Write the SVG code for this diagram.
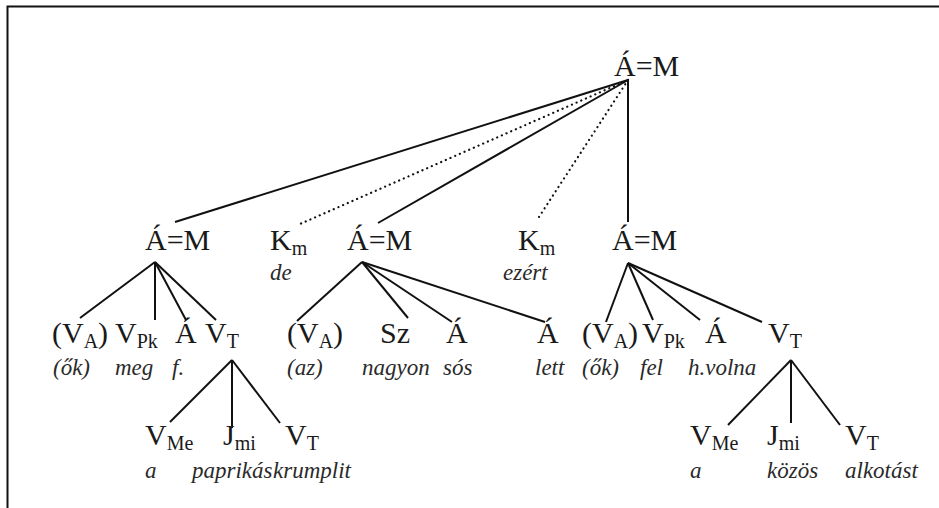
<svg xmlns="http://www.w3.org/2000/svg" width="939" height="508" viewBox="0 0 939 508">
<rect width="939" height="508" fill="#fff"/>
<path d="M7.5 508V6.5H939" stroke="#111" stroke-width="2" fill="none"/>
<g id="connectors" stroke="#111" stroke-width="2" fill="none">
<line x1="628" y1="80" x2="175" y2="222"/>
<line x1="628" y1="80" x2="300" y2="224" stroke-width="2.2" stroke-dasharray="0.1 5" stroke-linecap="round"/>
<line x1="628" y1="80" x2="378" y2="223"/>
<line x1="628" y1="80" x2="537" y2="220" stroke-width="2.2" stroke-dasharray="0.1 5" stroke-linecap="round"/>
<line x1="628" y1="80" x2="628" y2="222"/>
<line x1="155" y1="262" x2="80" y2="318"/>
<line x1="155" y1="262" x2="155" y2="320"/>
<line x1="155" y1="262" x2="186" y2="320"/>
<line x1="155" y1="262" x2="216" y2="320"/>
<line x1="362" y1="262" x2="297" y2="321"/>
<line x1="362" y1="262" x2="408" y2="318"/>
<line x1="362" y1="262" x2="452" y2="322"/>
<line x1="362" y1="262" x2="545" y2="322"/>
<line x1="628" y1="263" x2="606" y2="322"/>
<line x1="628" y1="263" x2="653" y2="320"/>
<line x1="628" y1="263" x2="700" y2="320"/>
<line x1="628" y1="263" x2="762" y2="322"/>
<line x1="232" y1="360" x2="170" y2="422"/>
<line x1="232" y1="360" x2="232" y2="428"/>
<line x1="232" y1="360" x2="280" y2="423"/>
<line x1="791" y1="360" x2="728" y2="425"/>
<line x1="791" y1="360" x2="791" y2="423"/>
<line x1="791" y1="360" x2="840" y2="425"/>
</g>
<g id="root"><text style="font-family:'Liberation Serif',Tinos,serif" font-family="Liberation Serif" font-size="30" fill="#1a1a1a" x="614" y="76">Á=M</text></g>
<g id="am1"><text style="font-family:'Liberation Serif',Tinos,serif" font-family="Liberation Serif" font-size="30" fill="#1a1a1a" x="145" y="250">Á=M</text></g>
<g id="km1"><text style="font-family:'Liberation Serif',Tinos,serif" font-family="Liberation Serif" font-size="30" fill="#1a1a1a" x="270" y="250">K<tspan font-size="20" dy="5">m</tspan></text><text style="font-family:'Liberation Serif',Tinos,serif" font-family="Liberation Serif" font-size="23" font-style="italic" fill="#2a2a2a" x="270" y="280">de</text></g>
<g id="am2"><text style="font-family:'Liberation Serif',Tinos,serif" font-family="Liberation Serif" font-size="30" fill="#1a1a1a" x="347" y="250">Á=M</text></g>
<g id="km2"><text style="font-family:'Liberation Serif',Tinos,serif" font-family="Liberation Serif" font-size="30" fill="#1a1a1a" x="518" y="250">K<tspan font-size="20" dy="5">m</tspan></text><text style="font-family:'Liberation Serif',Tinos,serif" font-family="Liberation Serif" font-size="23" font-style="italic" fill="#2a2a2a" x="503" y="280">ezért</text></g>
<g id="am3"><text style="font-family:'Liberation Serif',Tinos,serif" font-family="Liberation Serif" font-size="30" fill="#1a1a1a" x="612" y="250">Á=M</text></g>

<g id="va1"><text style="font-family:'Liberation Serif',Tinos,serif" font-family="Liberation Serif" font-size="30" fill="#1a1a1a" x="52" y="343">(V<tspan font-size="20" dy="5">A</tspan><tspan dy="-5">)</tspan></text><text style="font-family:'Liberation Serif',Tinos,serif" font-family="Liberation Serif" font-size="23" font-style="italic" fill="#2a2a2a" x="53" y="375">(ők)</text></g>
<g id="vpk1"><text style="font-family:'Liberation Serif',Tinos,serif" font-family="Liberation Serif" font-size="30" fill="#1a1a1a" x="115" y="343">V<tspan font-size="20" dy="5">Pk</tspan></text><text style="font-family:'Liberation Serif',Tinos,serif" font-family="Liberation Serif" font-size="23" font-style="italic" fill="#2a2a2a" x="115" y="375">meg</text></g>
<g id="a1"><text style="font-family:'Liberation Serif',Tinos,serif" font-family="Liberation Serif" font-size="30" fill="#1a1a1a" x="175" y="343">Á</text><text style="font-family:'Liberation Serif',Tinos,serif" font-family="Liberation Serif" font-size="23" font-style="italic" fill="#2a2a2a" x="172" y="375">f.</text></g>
<g id="vt1"><text style="font-family:'Liberation Serif',Tinos,serif" font-family="Liberation Serif" font-size="30" fill="#1a1a1a" x="205" y="343">V<tspan font-size="20" dy="5">T</tspan></text></g>
<g id="va2"><text style="font-family:'Liberation Serif',Tinos,serif" font-family="Liberation Serif" font-size="30" fill="#1a1a1a" x="287" y="343">(V<tspan font-size="20" dy="5">A</tspan><tspan dy="-5">)</tspan></text><text style="font-family:'Liberation Serif',Tinos,serif" font-family="Liberation Serif" font-size="23" font-style="italic" fill="#2a2a2a" x="287" y="375">(az)</text></g>
<g id="sz"><text style="font-family:'Liberation Serif',Tinos,serif" font-family="Liberation Serif" font-size="30" fill="#1a1a1a" x="380" y="343">Sz</text><text style="font-family:'Liberation Serif',Tinos,serif" font-family="Liberation Serif" font-size="23" font-style="italic" fill="#2a2a2a" x="362" y="375">nagyon</text></g>
<g id="a2"><text style="font-family:'Liberation Serif',Tinos,serif" font-family="Liberation Serif" font-size="30" fill="#1a1a1a" x="446" y="343">Á</text><text style="font-family:'Liberation Serif',Tinos,serif" font-family="Liberation Serif" font-size="23" font-style="italic" fill="#2a2a2a" x="443" y="375">sós</text></g>
<g id="a3"><text style="font-family:'Liberation Serif',Tinos,serif" font-family="Liberation Serif" font-size="30" fill="#1a1a1a" x="537" y="343">Á</text><text style="font-family:'Liberation Serif',Tinos,serif" font-family="Liberation Serif" font-size="23" font-style="italic" fill="#2a2a2a" x="535" y="375">lett</text></g>
<g id="va3"><text style="font-family:'Liberation Serif',Tinos,serif" font-family="Liberation Serif" font-size="30" fill="#1a1a1a" x="582" y="343">(V<tspan font-size="20" dy="5">A</tspan><tspan dy="-5">)</tspan></text><text style="font-family:'Liberation Serif',Tinos,serif" font-family="Liberation Serif" font-size="23" font-style="italic" fill="#2a2a2a" x="582" y="375">(ők)</text></g>
<g id="vpk2"><text style="font-family:'Liberation Serif',Tinos,serif" font-family="Liberation Serif" font-size="30" fill="#1a1a1a" x="642" y="343">V<tspan font-size="20" dy="5">Pk</tspan></text><text style="font-family:'Liberation Serif',Tinos,serif" font-family="Liberation Serif" font-size="23" font-style="italic" fill="#2a2a2a" x="640" y="375">fel</text></g>
<g id="a4"><text style="font-family:'Liberation Serif',Tinos,serif" font-family="Liberation Serif" font-size="30" fill="#1a1a1a" x="705" y="343">Á</text><text style="font-family:'Liberation Serif',Tinos,serif" font-family="Liberation Serif" font-size="23" font-style="italic" fill="#2a2a2a" x="688" y="375">h.volna</text></g>
<g id="vt2"><text style="font-family:'Liberation Serif',Tinos,serif" font-family="Liberation Serif" font-size="30" fill="#1a1a1a" x="768" y="343">V<tspan font-size="20" dy="5">T</tspan></text></g>

<g id="vme1"><text style="font-family:'Liberation Serif',Tinos,serif" font-family="Liberation Serif" font-size="30" fill="#1a1a1a" x="145" y="445">V<tspan font-size="20" dy="5">Me</tspan></text><text style="font-family:'Liberation Serif',Tinos,serif" font-family="Liberation Serif" font-size="23" font-style="italic" fill="#2a2a2a" x="145" y="478">a</text></g>
<g id="jmi1"><text style="font-family:'Liberation Serif',Tinos,serif" font-family="Liberation Serif" font-size="30" fill="#1a1a1a" x="223" y="445">J<tspan font-size="20" dy="5">mi</tspan></text><text style="font-family:'Liberation Serif',Tinos,serif" font-family="Liberation Serif" font-size="23" font-style="italic" fill="#2a2a2a" x="192" y="478">paprikás</text></g>
<g id="vt3"><text style="font-family:'Liberation Serif',Tinos,serif" font-family="Liberation Serif" font-size="30" fill="#1a1a1a" x="285" y="445">V<tspan font-size="20" dy="5">T</tspan></text><text style="font-family:'Liberation Serif',Tinos,serif" font-family="Liberation Serif" font-size="23" font-style="italic" fill="#2a2a2a" x="273" y="478">krumplit</text></g>
<g id="vme2"><text style="font-family:'Liberation Serif',Tinos,serif" font-family="Liberation Serif" font-size="30" fill="#1a1a1a" x="690" y="445">V<tspan font-size="20" dy="5">Me</tspan></text><text style="font-family:'Liberation Serif',Tinos,serif" font-family="Liberation Serif" font-size="23" font-style="italic" fill="#2a2a2a" x="690" y="478">a</text></g>
<g id="jmi2"><text style="font-family:'Liberation Serif',Tinos,serif" font-family="Liberation Serif" font-size="30" fill="#1a1a1a" x="767" y="445">J<tspan font-size="20" dy="5">mi</tspan></text><text style="font-family:'Liberation Serif',Tinos,serif" font-family="Liberation Serif" font-size="23" font-style="italic" fill="#2a2a2a" x="767" y="478">közös</text></g>
<g id="vt4"><text style="font-family:'Liberation Serif',Tinos,serif" font-family="Liberation Serif" font-size="30" fill="#1a1a1a" x="845" y="445">V<tspan font-size="20" dy="5">T</tspan></text><text style="font-family:'Liberation Serif',Tinos,serif" font-family="Liberation Serif" font-size="23" font-style="italic" fill="#2a2a2a" x="845" y="478">alkotást</text></g>
</svg>
